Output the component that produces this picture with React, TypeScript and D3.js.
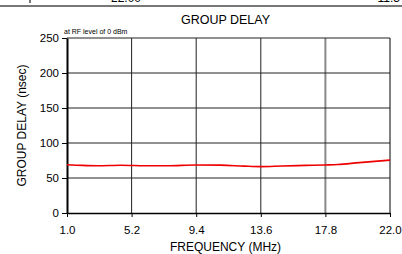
import React, { useEffect, useRef } from 'react';
import * as d3 from 'd3';

const freq = [1.0, 2.0, 3.0, 4.5, 6.0, 7.5, 9.4, 11.0, 12.5, 13.6, 15.0, 16.5, 17.8, 18.6, 20.0, 22.0];
const delay = [69, 68, 67.5, 68.2, 67.6, 67.4, 68.6, 68.4, 67.0, 66.2, 67.2, 68.0, 68.6, 69.2, 72.0, 75.5];
const xTicks = [1.0, 5.2, 9.4, 13.6, 17.8, 22.0];
const yTicks = [0, 50, 100, 150, 200, 250];

const App: React.FC = () => {
  const ref = useRef<SVGSVGElement>(null);
  const margin = { top: 38, right: 12, bottom: 41, left: 67 };
  const width = 402 - margin.left - margin.right;
  const height = 254 - margin.top - margin.bottom;

  useEffect(() => {
    if (!ref.current) return;
    const root = d3.select(ref.current);
    root.selectAll('*').remove();
    const font = 'Liberation Sans, Arial, sans-serif';

    // header remnant (cut off at the top of the page, as in the source)
    root.append('line').attr('x1', 0).attr('x2', 402).attr('y1', 6).attr('y2', 6)
      .attr('stroke', '#777').attr('stroke-width', 2);
    root.append('line').attr('x1', 30).attr('x2', 30).attr('y1', 0).attr('y2', 3)
      .attr('stroke', '#777').attr('stroke-width', 2);
    root.append('text').attr('x', 126).attr('y', 2).attr('text-anchor', 'middle')
      .attr('font-family', font).attr('font-size', 12).text('22.00');
    root.append('text').attr('x', 392).attr('y', 2).attr('text-anchor', 'middle')
      .attr('font-family', font).attr('font-size', 12).text('11:34');

    root.append('text').attr('x', margin.left + width / 2 - 3).attr('y', 24)
      .attr('text-anchor', 'middle').attr('font-family', font).attr('font-size', 12.5)
      .text('GROUP DELAY');

    const svg = root.append('g').attr('transform', `translate(${margin.left},${margin.top})`);

    const x = d3.scaleLinear().domain([1, 22]).range([0, width]);
    const y = d3.scaleLinear().domain([0, 250]).range([height, 0]);

    // grid
    svg.selectAll('.vg').data(xTicks.slice(1)).enter().append('line')
      .attr('x1', (d) => x(d)).attr('x2', (d) => x(d)).attr('y1', 0).attr('y2', height)
      .attr('stroke', (d) => (d === 17.8 ? '#888' : d === 22 ? '#000' : '#222'))
      .attr('stroke-width', (d) => (d === 17.8 ? 2 : 1));
    svg.selectAll('.hg').data(yTicks.slice(1)).enter().append('line')
      .attr('x1', 0).attr('x2', width).attr('y1', (d) => y(d)).attr('y2', (d) => y(d))
      .attr('stroke', '#222').attr('stroke-width', 1);

    // axes
    const xAxis = svg.append('g').attr('transform', `translate(0,${height})`)
      .call(d3.axisBottom(x).tickValues(xTicks).tickSize(4).tickSizeOuter(0).tickFormat(d3.format('.1f')));
    xAxis.select('.domain').attr('stroke', '#000').attr('stroke-width', 1.5);
    xAxis.selectAll('text').attr('font-family', font).attr('font-size', 11.5).attr('fill', '#000').attr('dy', '1.2em');

    const yAxis = svg.append('g')
      .call(d3.axisLeft(y).tickValues(yTicks).tickSize(5).tickSizeOuter(0));
    yAxis.select('.domain').attr('stroke', '#000').attr('stroke-width', 2);
    yAxis.selectAll('text').attr('font-family', font).attr('font-size', 11.5).attr('fill', '#000').attr('x', -8);

    const line = d3.line<number>()
      .x((_, i) => x(freq[i]))
      .y((d) => y(d))
      .curve(d3.curveMonotoneX);
    svg.append('path').datum(delay).attr('fill', 'none').attr('stroke', '#ee0000')
      .attr('stroke-width', 1.6).attr('d', line);

    svg.append('text').attr('x', -3).attr('y', -4).attr('font-family', font).attr('font-size', 7)
      .text('at RF level of 0 dBm');

    root.append('text').attr('x', margin.left + width / 2 - 3).attr('y', 251)
      .attr('text-anchor', 'middle').attr('font-family', font).attr('font-size', 12)
      .text('FREQUENCY (MHz)');
    root.append('text').attr('transform', `translate(26,${margin.top + height / 2}) rotate(-90)`)
      .attr('text-anchor', 'middle').attr('font-family', font).attr('font-size', 12)
      .text('GROUP DELAY (nsec)');
  }, []);

  return (
    <svg ref={ref} width={402} height={254}
      style={{ position: 'absolute', left: 0, top: 0, background: '#fff' }} />
  );
};

export default App;
